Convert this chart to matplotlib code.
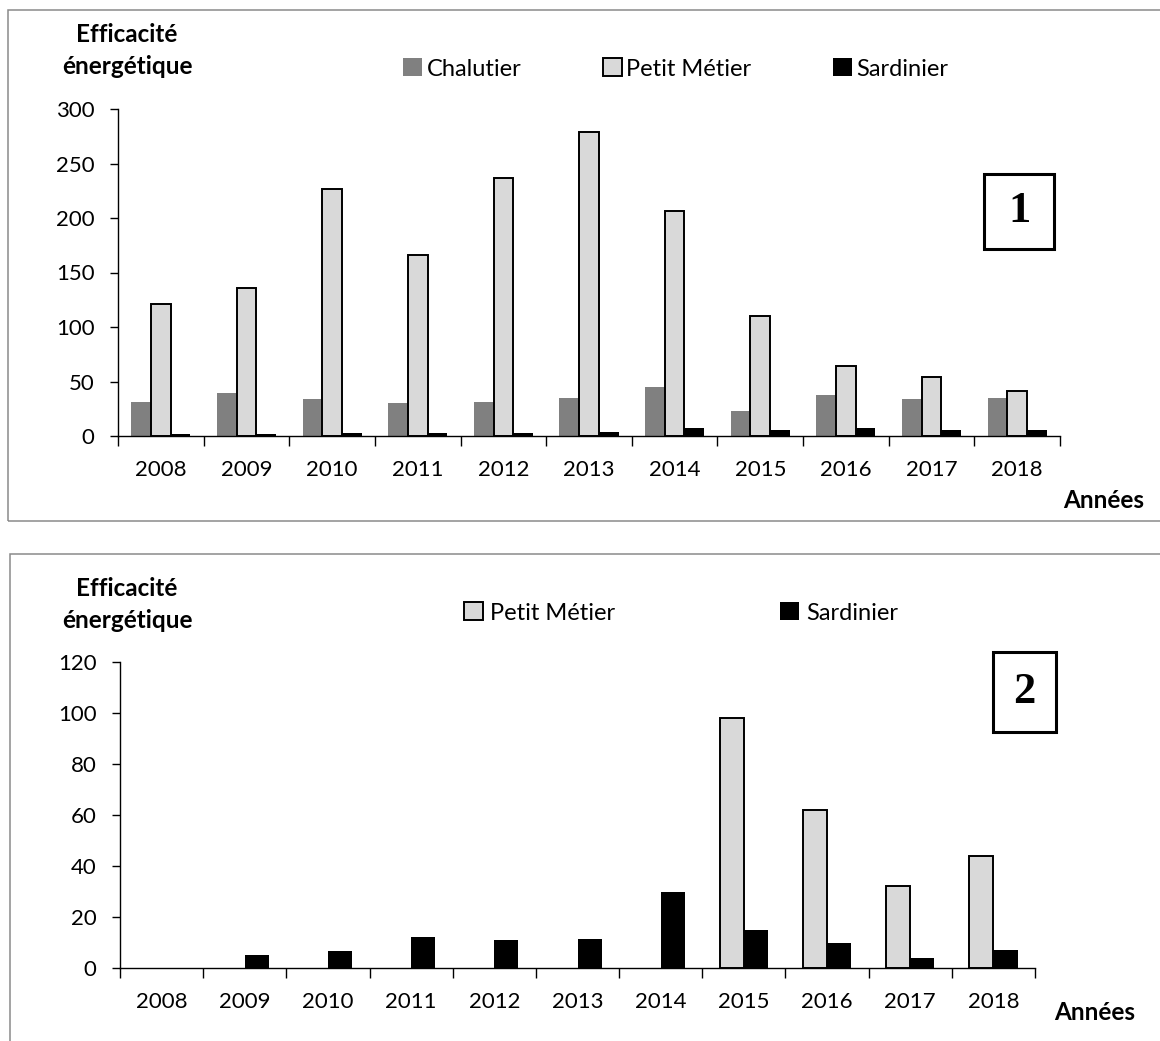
import numpy as np
import matplotlib.pyplot as plt
from matplotlib.patches import Patch, Rectangle

plt.rcParams['font.family'] = ['Lato', 'DejaVu Sans']

annees = ['2008', '2009', '2010', '2011', '2012', '2013', '2014', '2015', '2016', '2017', '2018']

# panneau 1
chalutier_1 = [31, 39, 34, 30, 31, 35, 45, 23, 38, 34, 35]
petit_metier_1 = [121, 136, 227, 166, 237, 279, 206, 110, 64, 54, 41]
sardinier_1 = [2, 2, 3, 3, 3, 4, 7, 5.5, 7, 5.5, 5.5]

# panneau 2 (pas de valeur petit métier avant 2015)
petit_metier_2 = [np.nan, np.nan, np.nan, np.nan, np.nan, np.nan, np.nan, 98, 62, 32, 44]
sardinier_2 = [0, 5, 6.5, 12, 11, 11.5, 30, 15, 10, 4, 7]

C_CHAL = '#808080'
C_PETIT = '#d9d9d9'
C_SARD = '#000000'

W, H = 1160, 1041


def fx(px):
    return px / W


def fy(py):
    return 1 - py / H


def style_axes(ax, ymax, ystep, fs):
    n = len(annees)
    x = np.arange(n)
    ax.set_xlim(-0.5, n - 0.5)
    ax.set_ylim(0, ymax)
    ax.set_yticks(np.arange(0, ymax + 1, ystep))
    ax.set_xticks(x)
    ax.set_xticklabels(annees)
    ax.set_xticks(np.arange(-0.5, n), minor=True)
    ax.tick_params(axis='x', which='major', length=0, pad=17, labelsize=fs)
    ax.tick_params(axis='x', which='minor', length=7, width=1, direction='out')
    ax.tick_params(axis='y', length=6, width=1, direction='out', pad=11, labelsize=fs)
    for s in ['top', 'right']:
        ax.spines[s].set_visible(False)
    for s in ['left', 'bottom']:
        ax.spines[s].set_linewidth(1)


fig = plt.figure(figsize=(W / 100, H / 100), dpi=100)
FS_TICK = 16
FS_LEG = 17
FS_LAB = 17.5

# panneau 1 : trois flottilles
ax1 = fig.add_axes([fx(118), fy(436), fx(1060) - fx(118), fy(109) - fy(436)])
x = np.arange(len(annees))
w1 = 0.23
ax1.bar(x - w1, chalutier_1, w1, color=C_CHAL, linewidth=0)
ax1.bar(x, petit_metier_1, w1, color=C_PETIT, edgecolor='black', linewidth=1.4)
ax1.bar(x + w1, sardinier_1, w1, color=C_SARD, linewidth=0)
style_axes(ax1, 300, 50, FS_TICK)

# panneau 2 : petit métier et sardinier
ax2 = fig.add_axes([fx(120), fy(968), fx(1035) - fx(120), fy(662) - fy(968)])
w2 = 0.29
ax2.bar(x - w2 / 2, petit_metier_2, w2, color=C_PETIT, edgecolor='black', linewidth=1.4)
ax2.bar(x + w2 / 2, sardinier_2, w2, color=C_SARD, linewidth=0)
style_axes(ax2, 120, 20, FS_TICK)

# titres d'axes
for y1, y2 in [(34, 66), (588, 621)]:
    fig.text(fx(127), fy(y1), 'Efficacité', ha='center', va='center',
             fontsize=FS_LAB, fontweight='bold')
    fig.text(fx(127), fy(y2), 'énergétique', ha='center', va='center',
             fontsize=FS_LAB, fontweight='bold')
fig.text(fx(1104), fy(500), 'Années', ha='center', va='center', fontsize=FS_LAB, fontweight='bold')
fig.text(fx(1095), fy(1012), 'Années', ha='center', va='center', fontsize=FS_LAB, fontweight='bold')

# légendes
h_chal = Patch(facecolor=C_CHAL, edgecolor='none')
h_petit = Patch(facecolor=C_PETIT, edgecolor='black', linewidth=1.4)
h_sard = Patch(facecolor=C_SARD, edgecolor='none')
fig.legend([h_chal, h_petit, h_sard], ['Chalutier', 'Petit Métier', 'Sardinier'],
           loc='center left', bbox_to_anchor=(fx(403), fy(69)), ncol=3, frameon=False,
           fontsize=FS_LEG, handlelength=0.8, handleheight=0.8, handletextpad=0.2,
           columnspacing=3.45, borderpad=0, borderaxespad=0)
fig.legend([h_petit, h_sard], ['Petit Métier', 'Sardinier'],
           loc='center left', bbox_to_anchor=(fx(464), fy(613)), ncol=2, frameon=False,
           fontsize=FS_LEG, handlelength=0.8, handleheight=0.8, handletextpad=0.3,
           columnspacing=7.0, borderpad=0, borderaxespad=0)

# cadres numérotés
for (l, t, r, b), num in [((984, 174, 1054, 249), '1'), ((993, 652, 1056, 732), '2')]:
    fig.add_artist(Rectangle((fx(l), fy(b)), fx(r) - fx(l), fy(t) - fy(b),
                             transform=fig.transFigure, fill=False,
                             edgecolor='black', linewidth=2.2))
    fig.text(fx((l + r) / 2), fy((t + b) / 2), num, ha='center', va='center',
             fontsize=32, fontweight='bold', family='Liberation Serif')

# bordures des deux zones de graphique
fig.add_artist(Rectangle((fx(8), fy(521)), 1.02 - fx(8), fy(10) - fy(521),
                         transform=fig.transFigure, fill=False,
                         edgecolor='#8a8a8a', linewidth=1.1))
fig.add_artist(Rectangle((fx(10), -0.02), 1.02 - fx(10), fy(554) + 0.02,
                         transform=fig.transFigure, fill=False,
                         edgecolor='#8a8a8a', linewidth=1.1))

fig.savefig('out.png', dpi=100)
